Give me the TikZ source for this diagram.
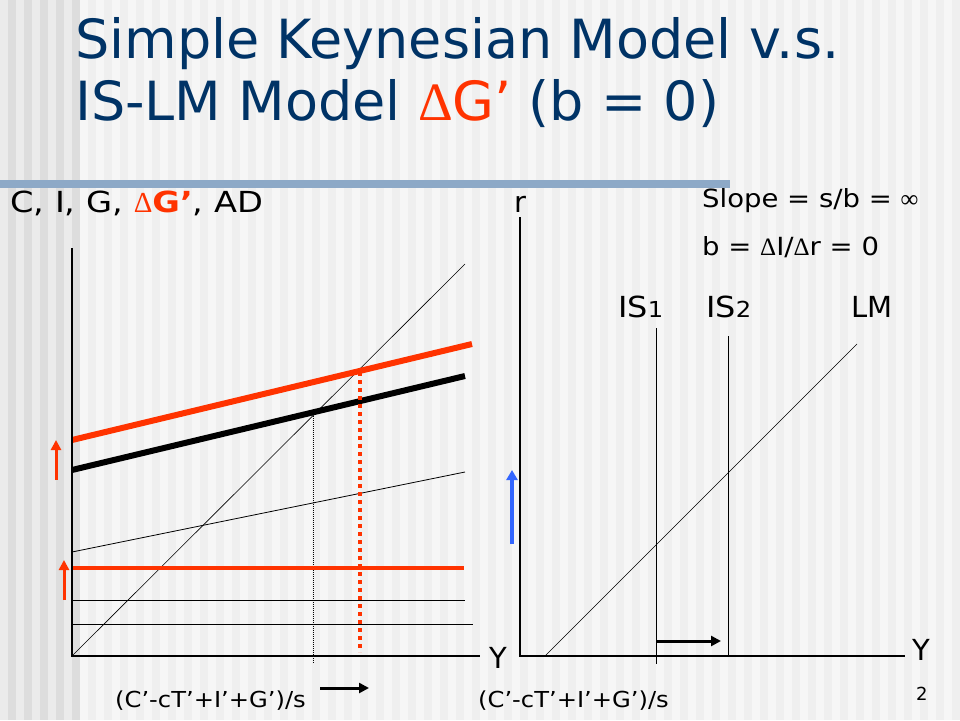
\documentclass[tikz,border=0pt]{standalone}
\usepackage{fontspec}
\setmainfont{DejaVu Sans}
\newfontfamily\symf{Liberation Serif}
\newfontfamily\widef[FakeStretch=1.1]{DejaVu Sans}
\newfontfamily\wideff[FakeStretch=1.16]{DejaVu Sans}
\usetikzlibrary{arrows.meta}
\definecolor{titleblue}{RGB}{0,51,102}
\definecolor{hot}{RGB}{255,51,0}
\definecolor{barblue}{RGB}{141,169,199}
\definecolor{arrowblue}{RGB}{51,102,255}
\definecolor{stripeA}{RGB}{221,221,221}
\definecolor{stripeB}{RGB}{235,235,235}
\definecolor{stripeC}{RGB}{239,239,239}
\definecolor{stripeD}{RGB}{246,246,246}
\tikzset{
  lbl/.style={anchor=base west, inner sep=0pt},
  big/.style={lbl, font=\fontsize{29}{34}\selectfont},
  mid/.style={lbl, font=\widef\fontsize{25}{28}\selectfont},
  small/.style={lbl, font=\widef\fontsize{22}{26}\selectfont},
  thinline/.style={draw=black, line width=0.8pt},
  thickline/.style={line width=6pt},
  shiftarrow/.style={line width=3pt, -{Triangle[length=10pt,width=10pt]}},
}
\begin{document}
\begin{tikzpicture}[x=1pt,y=-1pt]
\useasboundingbox (0,0) rectangle (960,720);
% background stripes
\fill[stripeD] (0,0) rectangle (960,720);
\foreach \i in {0,...,59} { \fill[stripeC] (16*\i+8,0) rectangle ++(8,720); }
\fill[stripeB] (0,0) rectangle (72,720);
\foreach \i in {0,...,4} { \fill[stripeA] (16*\i+8,0) rectangle ++(8,720); }
% bar
\fill[barblue] (0,180) rectangle (730,188);
% title
\node[lbl, font=\fontsize{54}{60}\selectfont, text=titleblue] (t1) at (75,58) {Simple Keynesian Model v.s.};
\node[lbl, font=\fontsize{54}{60}\selectfont, text=titleblue] (t2) at (75,120) {IS-LM Model {\color{hot}{\symf Δ}G’} (b = 0)};

% ---------- left panel ----------
\coordinate (O1) at (72,656);
\coordinate (Ytop1) at (72,248);
\coordinate (Xend1) at (480,656);
\coordinate (d45) at (465,264);
\coordinate (ad0) at (72,470);  \coordinate (ad1) at (465,376);
\coordinate (adr0) at (72,440); \coordinate (adr1) at (472,344);
\coordinate (c0) at (72,552);   \coordinate (c1) at (465,472);
\coordinate (g0) at (72,568);   \coordinate (g1) at (464,568);
\coordinate (i0) at (72,600);   \coordinate (i1) at (465,600);
\coordinate (k0) at (72,624);   \coordinate (k1) at (473,624);
\coordinate (e1t) at (313,410); \coordinate (e1b) at (313,664);
\coordinate (e2t) at (360,372); \coordinate (e2b) at (360,652);
\coordinate (ra0) at (56,480);  \coordinate (ra1) at (56,440);
\coordinate (rb0) at (64,600);  \coordinate (rb1) at (64,560);
\coordinate (ba0) at (320,688); \coordinate (ba1) at (369,688);

\draw[thinline, line width=0.6pt] (O1) -- (d45);
\draw[thinline] (c0) -- (c1);
\draw[thinline] (i0) -- (i1);
\draw[thinline] (k0) -- (k1);
\draw[black, line width=0.6pt, dash pattern=on 1pt off 1pt] (e1t) -- (e1b);
\draw[hot, line width=4pt] (g0) -- (g1);
\draw[black, thickline] (ad0) -- (ad1);
\draw[hot, thickline] (adr0) -- (adr1);
\draw[hot, line width=4pt, dash pattern=on 4pt off 4pt] (e2t) -- (e2b);
\draw[thinline, line width=1.2pt] (Ytop1) -- (O1) -- (Xend1);
\draw[hot, shiftarrow] (ra0) -- (ra1);
\draw[hot, shiftarrow] (rb0) -- (rb1);
\draw[black, shiftarrow] (ba0) -- (ba1);

\node[lbl, font=\wideff\fontsize{29}{34}\selectfont] (lab1) at (10,212) {C, I, G, {\color{hot}{\symf Δ}\textbf{G’}}, AD};
\node[big] (y1) at (489,668) {Y};
\node[small] (f1) at (115,707) {(C’-cT’+I’+G’)/s};

% ---------- right panel ----------
\coordinate (O2) at (520,656);
\coordinate (Ytop2) at (520,217);
\coordinate (Xend2) at (905,656);
\coordinate (is1t) at (656,328); \coordinate (is1b) at (656,664);
\coordinate (is2t) at (728,336); \coordinate (is2b) at (728,656);
\coordinate (lm0) at (545,656);  \coordinate (lm1) at (857,344);
\coordinate (bl0) at (512,544);  \coordinate (bl1) at (512,470);
\coordinate (sa0) at (656,641);  \coordinate (sa1) at (721,641);

\draw[thinline, line width=1.2pt] (Ytop2) -- (O2) -- (Xend2);
\draw[thinline] (is1t) -- (is1b);
\draw[thinline] (is2t) -- (is2b);
\draw[thinline, line width=0.6pt] (lm0) -- (lm1);
\draw[arrowblue, line width=4pt, -{Triangle[length=10pt,width=11pt]}] (bl0) -- (bl1);
\draw[black, shiftarrow] (sa0) -- (sa1);

\node[big] (rlab) at (514,212) {r};
\node[mid] (slope) at (702,207) {Slope = s/b = {\symf ∞}};
\node[mid] (bdef) at (702,255) {b = {\symf Δ}I/{\symf Δ}r = 0};
\node[lbl, font=\widef\fontsize{29}{34}\selectfont] (is1) at (618,317) {IS{\fontsize{22}{26}\selectfont 1}};
\node[lbl, font=\widef\fontsize{29}{34}\selectfont] (is2) at (706,317) {IS{\fontsize{22}{26}\selectfont 2}};
\node[big] (lm) at (851,317) {LM};
\node[big] (y2) at (912,660) {Y};
\node[small] (f2) at (478,707) {(C’-cT’+I’+G’)/s};
\node[lbl, font=\fontsize{18}{20}\selectfont] (pg) at (916,700) {2};
\end{tikzpicture}
\end{document}
